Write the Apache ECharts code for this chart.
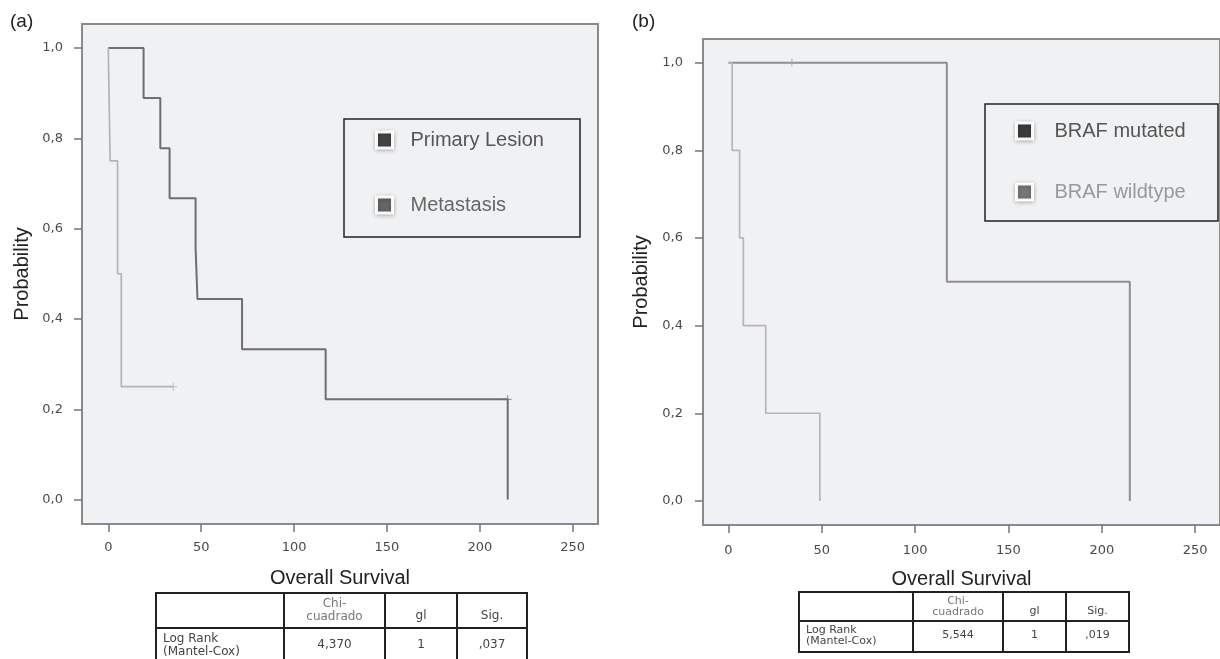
<!DOCTYPE html>
<html>
<head>
<meta charset="utf-8">
<script src="https://cdn.jsdelivr.net/npm/echarts@6/dist/echarts.min.js"></script>
<style>
html,body{margin:0;padding:0;background:#fff;}
#chart{width:1220px;height:659px;}
</style>
</head>
<body>
<div id="chart"></div>
<script>
// ---- data ----
const xTicks = [0, 50, 100, 150, 200, 250];
const yTicks = [0, 0.2, 0.4, 0.6, 0.8, 1.0];
const yTickLabels = ['0,0', '0,2', '0,4', '0,6', '0,8', '1,0'];

// panel (a)
const primaryLesion = [[0,1],[19,0.889],[28,0.778],[33,0.667],[47,0.556],[48,0.444],[72,0.333],[117,0.222],[215,0]];
const primaryCensored = [[215,0.222]];
const metastasis = [[0,1],[1,0.75],[5,0.5],[7,0.25],[35,0.25]];
const metastasisCensored = [[35,0.25]];
// panel (b)
const brafMutated = [[0,1],[117,0.5],[215,0]];
const brafMutatedCensored = [[34,1]];
const brafWildtype = [[0,1],[2,0.8],[6,0.6],[8,0.4],[20,0.2],[49,0]];

// Log-rank tables
const tableHeader = ['Chi-\ncuadrado', 'gl', 'Sig.'];
const tableRowLabel = 'Log Rank\n(Mantel-Cox)';
const tableA = ['4,370', '1', ',037'];
const tableB = ['5,544', '1', ',019'];

// ---- chart ----
const chart = echarts.init(document.getElementById('chart'), null, {renderer:'canvas'});
const SANS = '"Liberation Sans", Arial, Helvetica, sans-serif';
const TICKFONT = '"DejaVu Sans", Verdana, sans-serif';

function xAxisCfg(gi, min, max, margin) {
  return {
    gridIndex: gi, type: 'value', min: min, max: max,
    axisLine: {show: true, onZero: false, lineStyle: {color: '#8a8a8a', width: 2}},
    axisTick: {show: true, customValues: xTicks, length: 8, inside: false, lineStyle: {color: '#777', width: 1.5}},
    axisLabel: {customValues: xTicks, margin: margin, color: '#4a4a4a', fontFamily: TICKFONT, fontSize: 13},
    splitLine: {show: false},
    name: 'Overall Survival', nameLocation: 'middle', nameGap: 44,
    nameTextStyle: {fontFamily: SANS, fontSize: 20, color: '#222'}
  };
}
function yAxisCfg(gi, min, max, margin, gap) {
  return {
    gridIndex: gi, type: 'value', min: min, max: max,
    axisLine: {show: true, onZero: false, lineStyle: {color: '#8a8a8a', width: 2}},
    axisTick: {show: true, customValues: yTicks, length: 8, lineStyle: {color: '#777', width: 1.5}},
    axisLabel: {customValues: yTicks, margin: margin, color: '#4a4a4a', fontFamily: TICKFONT, fontSize: 13,
      formatter: function (v) { const i = yTicks.findIndex(t => Math.abs(t - v) < 1e-9); return i >= 0 ? yTickLabels[i] : ''; }},
    splitLine: {show: false},
    name: 'Probability', nameLocation: 'middle', nameGap: gap,
    nameTextStyle: {fontFamily: SANS, fontSize: 20, color: '#222'}
  };
}
function stepLine(name, data, xi, color, width) {
  return {name: name, type: 'line', step: 'end', xAxisIndex: xi, yAxisIndex: xi, data: data,
    symbol: 'none', lineStyle: {color: color, width: width}, itemStyle: {color: color}, silent: true, z: 3};
}
const PLUS = 'path://M-0.12,-1H0.12V-0.12H1V0.12H0.12V1H-0.12V0.12H-1V-0.12H-0.12Z';
function censor(name, data, xi, color) {
  return {name: name, type: 'scatter', xAxisIndex: xi, yAxisIndex: xi, data: data,
    symbol: PLUS, symbolSize: 8, itemStyle: {color: color}, silent: true, z: 4};
}
function legendCfg(names, colors, textColors, left, top, gap, textPad) {
  return {
    show: true, orient: 'vertical', left: left, top: top, padding: 0,
    itemWidth: 16, itemHeight: 16, itemGap: gap, selectedMode: false,
    data: names.map((n, i) => ({name: n, icon: 'rect',
      itemStyle: {color: colors[i], borderColor: 'rgba(255,255,255,0.95)', borderWidth: 3,
        shadowColor: 'rgba(0,0,0,0.25)', shadowBlur: 4, shadowOffsetY: 1},
      textStyle: {color: textColors[i]}})),
    textStyle: {fontFamily: SANS, fontSize: 20, lineHeight: 20, padding: [0, 0, 0, textPad]}
  };
}

function table(left, top, sep, bottom, cols, values, fs, lh) {
  const els = [];
  const right = cols[cols.length - 1];
  els.push({type: 'rect', shape: {x: left, y: top, width: right - left, height: bottom - top},
    style: {fill: '#fff', stroke: '#222', lineWidth: 2}, z: 10});
  els.push({type: 'line', shape: {x1: left, y1: sep, x2: right, y2: sep}, style: {stroke: '#222', lineWidth: 2}, z: 11});
  for (let i = 1; i < cols.length - 1; i++) {
    els.push({type: 'line', shape: {x1: cols[i], y1: top, x2: cols[i], y2: bottom}, style: {stroke: '#222', lineWidth: 2}, z: 11});
  }
  const font = fs + 'px "DejaVu Sans", Verdana, sans-serif';
  const rowY = (sep + Math.min(bottom, sep + 2.6 * lh)) / 2;
  for (let i = 0; i < 3; i++) {
    const cx = (cols[i + 1] + cols[i + 2]) / 2;
    const hy = i === 0 ? (top + sep) / 2 : sep - lh * 0.9;
    els.push({type: 'text', x: cx, y: hy, z: 12,
      style: {text: tableHeader[i], font: font, fill: i === 0 ? '#777' : '#444', align: 'center', verticalAlign: 'middle', lineHeight: lh}});
    els.push({type: 'text', x: cx, y: rowY, z: 12,
      style: {text: values[i], font: font, fill: '#444', align: 'center', verticalAlign: 'middle'}});
  }
  els.push({type: 'text', x: left + 7, y: rowY, z: 12,
    style: {text: tableRowLabel, font: font, fill: '#444', align: 'left', verticalAlign: 'middle', lineHeight: lh}});
  return els;
}

const graphics = [].concat(
  [
    {type: 'text', x: 10, y: 22, style: {text: '(a)', font: '19px ' + SANS, fill: '#222', align: 'left', verticalAlign: 'middle'}},
    {type: 'text', x: 632, y: 22, style: {text: '(b)', font: '19px ' + SANS, fill: '#222', align: 'left', verticalAlign: 'middle'}},
    {type: 'rect', shape: {x: 344, y: 119, width: 236, height: 118}, style: {fill: 'none', stroke: '#222', lineWidth: 1.5}, z: 5},
    {type: 'rect', shape: {x: 985, y: 104, width: 233, height: 117}, style: {fill: 'none', stroke: '#222', lineWidth: 1.5}, z: 5}
  ],
  table(156, 593, 628, 664, [156, 284, 385, 457, 527], tableA, 12, 13),
  table(799, 592, 621, 652, [799, 913, 1003, 1066, 1129], tableB, 11, 11)
);

chart.setOption({
  animation: false,
  backgroundColor: '#fff',
  grid: [
    {left: 82, top: 24, width: 516, height: 500, show: true, backgroundColor: '#f0f1f3', borderColor: '#8a8a8a', borderWidth: 2, containLabel: false},
    {left: 703, top: 39, width: 522, height: 486, show: true, backgroundColor: '#f0f1f3', borderColor: '#8a8a8a', borderWidth: 2, containLabel: false}
  ],
  xAxis: [xAxisCfg(0, -14.15, 263.6, 17), xAxisCfg(1, -13.6, 263.3, 19)],
  yAxis: [yAxisCfg(0, -0.054, 1.053, 19, 50), yAxisCfg(1, -0.055, 1.054, 20, 52)],
  legend: [
    legendCfg(['Primary Lesion', 'Metastasis'], ['#444', '#666'], ['#555', '#666'], 375, 130, 45, 13),
    legendCfg(['BRAF mutated', 'BRAF wildtype'], ['#3c3c3c', '#777'], ['#555', '#999'], 1015, 121, 41, 17)
  ],
  series: [
    stepLine('Primary Lesion', primaryLesion, 0, '#6e6e6e', 2),
    censor('Primary Lesion', primaryCensored, 0, '#6e6e6e'),
    stepLine('Metastasis', metastasis, 0, '#b3b3b3', 1.7),
    censor('Metastasis', metastasisCensored, 0, '#b3b3b3'),
    stepLine('BRAF mutated', brafMutated, 1, '#8e8e8e', 2),
    censor('BRAF mutated', brafMutatedCensored, 1, '#a0a0a0'),
    stepLine('BRAF wildtype', brafWildtype, 1, '#b6b6b6', 1.7)
  ],
  graphic: graphics
});
</script>
</body>
</html>
